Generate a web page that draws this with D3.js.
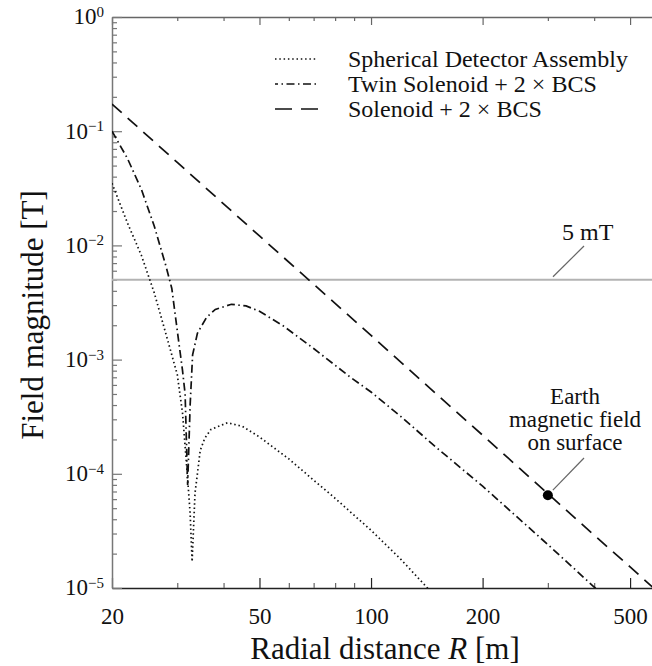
<!DOCTYPE html>
<html lang="en">
<head>
<meta charset="UTF-8">
<title>Field magnitude vs radial distance</title>
<script src="https://d3js.org/d3.v7.min.js"></script>
<style>
  body { margin: 0; background: #fff; }
  svg text { font-family: "Liberation Serif", "DejaVu Serif", serif; fill: #111; }
</style>
</head>
<body>
<svg width="652" height="666"></svg>
<script>
// data (R in m, B in T)
var R_sph = [20, 22, 24, 26, 28, 30, 31, 32, 32.5, 32.9, 33.5, 34, 34.6, 35.6, 37, 41, 45, 50, 60, 70, 80, 100, 120, 145];
var B_sph = [0.035, 0.0158, 0.0082, 0.00385, 0.00165, 7.4e-4, 3.4e-4, 9e-5, 4.5e-5, 1.7e-5, 6.8e-5, 1.0e-4, 1.6e-4, 2.05e-4, 2.45e-4, 2.8e-4, 2.6e-4, 2.1e-4, 1.35e-4, 8.8e-5, 6.1e-5, 3.2e-5, 1.8e-5, 9.3e-6];

var R_twin = [20, 22, 24, 26, 28, 29, 30, 31, 31.5, 32, 32.5, 33, 34, 36, 38, 42, 46, 50, 58, 70, 88, 100, 120, 150, 200, 300, 400, 420];
var B_twin = [0.1, 0.058, 0.031, 0.0148, 0.0065, 0.0042, 0.0018, 8e-4, 5e-4, 8e-5, 4e-4, 1.1e-3, 1.7e-3, 2.35e-3, 2.75e-3, 3.05e-3, 2.95e-3, 2.65e-3, 1.97e-3, 1.25e-3, 7e-4, 5.2e-4, 3.2e-4, 1.7e-4, 7.8e-5, 2.4e-5, 1.02e-5, 8.9e-6];

var R_sol = [20, 30, 50, 70, 100, 150, 200, 300, 400, 500, 600];
var B_sol = [0.173, 0.0533, 0.0121, 0.00457, 0.00163, 5.0e-4, 2.18e-4, 6.7e-5, 2.9e-5, 1.53e-5, 9.0e-6];

var seriesNames = ["Spherical Detector Assembly", "Twin Solenoid + 2 \u00d7 BCS", "Solenoid + 2 \u00d7 BCS"];
var seriesDash = ["1.5,2.8", "8,3.5,1.5,3.5", "13,8"];

var xMajor = [20, 50, 100, 200, 500];
var xMinor = [30, 40, 60, 70, 80, 90, 300, 400];
var yExp = [0, -1, -2, -3, -4, -5];

var limitB = 0.005;          // 5 mT line
var earthR = 300, earthB = 6.5e-5;

var svg = d3.select("svg");
var padL = 112, padT = 17, padB = 588;

var x = d3.scaleLog().domain([20, 600]).range([padL, padL + 370.6 * Math.log10(30)]);
var y = d3.scaleLog().domain([1e-5, 1]).range([padB, padT]);

var yMinor = [];
yExp.slice(1).forEach(function(e) {
    for (var k = 2; k <= 9; k++) yMinor.push(k * Math.pow(10, e));
});

svg.append("defs").append("clipPath").attr("id", "clip")
    .append("rect").attr("x", padL).attr("y", padT)
    .attr("width", 660 - padL).attr("height", padB - padT);

// axes with inward ticks
function styleAxis(g, col) {
    g.select(".domain").attr("stroke", col).attr("stroke-width", 1.5);
    g.selectAll(".tick line").attr("stroke", col).attr("stroke-width", 1.2);
}

var gx = svg.append("g").attr("transform", "translate(0," + padB + ")")
    .call(d3.axisBottom(x).tickValues(xMajor).tickSizeInner(-10).tickSizeOuter(0)
        .tickPadding(20).tickFormat(d3.format("d")));
gx.selectAll(".tick text").attr("font-size", 23).attr("font-family", "Liberation Serif").attr("fill", "#111");
styleAxis(gx, "#222");
var gxm = svg.append("g").attr("transform", "translate(0," + padB + ")")
    .call(d3.axisBottom(x).tickValues(xMinor).tickSizeInner(-5).tickSizeOuter(0).tickFormat(""));
gxm.select(".domain").remove();
styleAxis(gxm, "#666");

var gt = svg.append("g").attr("transform", "translate(0," + padT + ")")
    .call(d3.axisTop(x).tickValues(xMajor).tickSizeInner(-8).tickSizeOuter(0).tickFormat(""));
styleAxis(gt, "#666");
var gtm = svg.append("g").attr("transform", "translate(0," + padT + ")")
    .call(d3.axisTop(x).tickValues(xMinor).tickSizeInner(-4).tickSizeOuter(0).tickFormat(""));
gtm.select(".domain").remove();
styleAxis(gtm, "#666");

var gy = svg.append("g").attr("transform", "translate(" + padL + ",0)")
    .call(d3.axisLeft(y).tickValues(yExp.map(function(e) { return Math.pow(10, e); }))
        .tickSizeInner(-10).tickSizeOuter(0).tickPadding(8).tickFormat(function() { return "10"; }));
styleAxis(gy, "#777");
gy.selectAll(".tick text")
    .attr("font-size", 23).attr("font-family", "Liberation Serif").attr("fill", "#111")
    .attr("dy", "0.3em")
    .each(function(d) {
        var e = Math.round(Math.log10(d));
        d3.select(this).append("tspan").attr("dy", "-0.5em").attr("font-size", 15)
            .text(e === 0 ? "0" : "\u2212" + (-e));
    });
var gym = svg.append("g").attr("transform", "translate(" + padL + ",0)")
    .call(d3.axisLeft(y).tickValues(yMinor).tickSizeInner(-5).tickSizeOuter(0).tickFormat(""));
gym.select(".domain").remove();
styleAxis(gym, "#777");

// 5 mT reference line
svg.append("line")
    .attr("x1", padL).attr("x2", 652)
    .attr("y1", y(limitB)).attr("y2", y(limitB))
    .attr("stroke", "#b3b3b3").attr("stroke-width", 2);

// curves
var line = d3.line().x(function(d) { return x(d[0]); }).y(function(d) { return y(d[1]); });
var plot = svg.append("g").attr("clip-path", "url(#clip)");
[[R_sph, B_sph], [R_twin, B_twin], [R_sol, B_sol]].forEach(function(s, i) {
    plot.append("path")
        .datum(d3.zip(s[0], s[1]))
        .attr("d", line)
        .attr("fill", "none")
        .attr("stroke", "#111")
        .attr("stroke-width", 1.7)
        .attr("stroke-dasharray", seriesDash[i]);
});

// earth marker and annotations
svg.append("circle").attr("cx", x(earthR)).attr("cy", y(earthB)).attr("r", 5).attr("fill", "#000");
svg.append("line").attr("x1", x(earthR) + 5).attr("y1", y(earthB) - 5)
    .attr("x2", 584).attr("y2", 458).attr("stroke", "#666").attr("stroke-width", 1.2);
var earthText = ["Earth", "magnetic field", "on surface"];
earthText.forEach(function(t, i) {
    svg.append("text").attr("x", 575).attr("y", 404 + i * 23)
        .attr("text-anchor", "middle").attr("font-size", 23).text(t);
});
svg.append("line").attr("x1", 553).attr("y1", y(limitB) - 3)
    .attr("x2", 584).attr("y2", 246).attr("stroke", "#666").attr("stroke-width", 1.2);
svg.append("text").attr("x", 562).attr("y", 240).attr("font-size", 24).text("5 mT");

// legend
var lg = svg.append("g");
seriesNames.forEach(function(name, i) {
    var by = 67 + i * 25;
    lg.append("line").attr("x1", 275).attr("x2", 318)
        .attr("y1", by - 8).attr("y2", by - 8)
        .attr("stroke", "#111").attr("stroke-width", 1.7)
        .attr("stroke-dasharray", i === 2 ? "17,9" : seriesDash[i])
        .attr("stroke-dashoffset", i === 1 ? 5 : 0);
    lg.append("text").attr("x", 348).attr("y", by).attr("font-size", 24).text(name);
});

// axis titles
var xt = svg.append("text").attr("x", 385).attr("y", 659).attr("text-anchor", "middle").attr("font-size", 31);
xt.append("tspan").text("Radial distance ");
xt.append("tspan").attr("font-style", "italic").text("R");
xt.append("tspan").text(" [m]");

svg.append("text")
    .attr("transform", "translate(43,315) rotate(-90)")
    .attr("text-anchor", "middle").attr("font-size", 31)
    .text("Field magnitude [T]");
</script>
</body>
</html>
